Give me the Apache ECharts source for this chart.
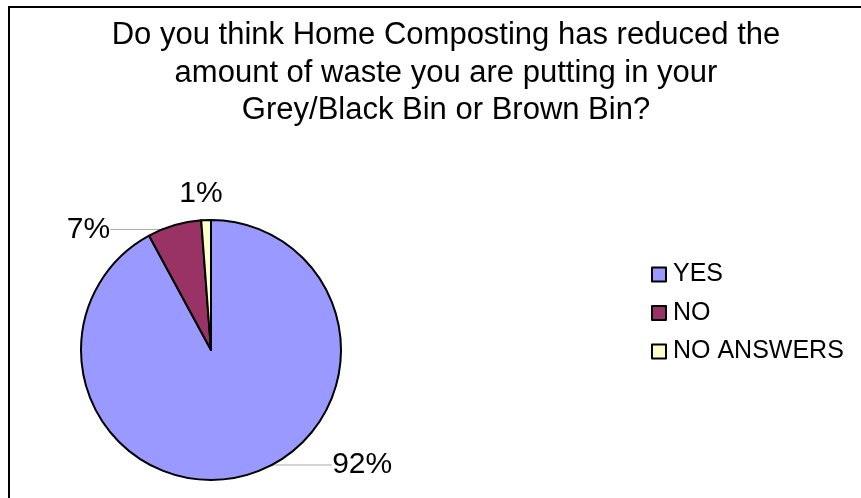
<!DOCTYPE html>
<html>
<head>
<meta charset="utf-8">
<script src="https://cdn.jsdelivr.net/npm/echarts@6/dist/echarts.min.js"></script>
<style>
html,body{margin:0;padding:0;background:#fff;}
#chart{width:861px;height:498px;}
</style>
</head>
<body>
<div id="chart"></div>
<script>
var titleText = 'Do you think Home Composting has reduced the\namount of waste you are putting in your\nGrey/Black Bin or Brown Bin?';
var categories = ['YES', 'NO', 'NO ANSWERS'];
var values = [92.1, 6.7, 1.2];
var colors = ['#9999FF', '#993366', '#FFFFCC'];

var chart = echarts.init(document.getElementById('chart'));
var FONT = 'Liberation Sans, Arial, sans-serif';
var labelLines = [
  { length: 1, length2: 84 },
  { length: 4, length2: 58 },
  { length: 28, length2: 0, show: false }
];
var data = categories.map(function (c, i) {
  return { name: c, value: values[i], itemStyle: { color: colors[i] }, labelLine: labelLines[i] };
});

chart.setOption({
  animation: false,
  backgroundColor: '#fff',
  graphic: [{
    type: 'rect',
    shape: { x: 9, y: 7, width: 900, height: 600 },
    style: { fill: 'none', stroke: '#000', lineWidth: 2 },
    silent: true, z: 100
  }],
  title: {
    text: titleText,
    left: 441,
    top: 12,
    textAlign: 'center',
    textStyle: { fontFamily: FONT, fontSize: 31, fontWeight: 'normal', color: '#000', lineHeight: 37.5 }
  },
  legend: {
    orient: 'vertical',
    left: 646,
    top: 257,
    itemWidth: 14,
    itemHeight: 14,
    itemGap: 13.5,
    icon: 'rect',
    data: categories,
    itemStyle: { borderColor: '#000', borderWidth: 2 },
    textStyle: { fontFamily: FONT, fontSize: 25, color: '#000', padding: [0, 0, 0, 2] }
  },
  series: [{
    type: 'pie',
    center: [211, 350],
    radius: 130,
    startAngle: 90,
    clockwise: true,
    avoidLabelOverlap: false,
    data: data,
    itemStyle: { borderColor: '#000', borderWidth: 2 },
    label: {
      show: true,
      position: 'outside',
      fontFamily: FONT,
      fontSize: 30,
      color: '#000',
      formatter: function (p) { return Math.round(p.value) + '%'; }
    },
    labelLine: {
      show: true,
      lineStyle: { color: '#aaa', width: 1 }
    },
    labelLayout: function (p) {
      var r = p.labelRect;
      if (p.dataIndex === 0) return { x: r.x, y: r.y + r.height / 2 - 12, align: 'left', verticalAlign: 'middle' };
      if (p.dataIndex === 1) return { x: r.x + r.width, y: r.y + r.height / 2 + 8, align: 'right', verticalAlign: 'middle' };
      return { x: r.x + r.width + 1, y: r.y + r.height / 2 + 2, align: 'center', verticalAlign: 'middle' };
    },
    emphasis: { disabled: true }
  }]
});
</script>
</body>
</html>
